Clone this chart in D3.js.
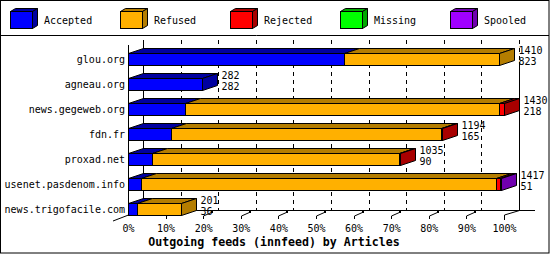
<!DOCTYPE html>
<html>
<head>
<meta charset="utf-8">
<script src="https://cdn.jsdelivr.net/npm/d3@7"></script>
<style>
  body { margin: 0; background: #fff; }
  svg { display: block; }
  text { font-family: "DejaVu Sans Mono", monospace; font-size: 10px; fill: #000; }
  .title { font-weight: bold; font-size: 11.6px; }
</style>
</head>
<body>
<svg id="chart" width="550" height="255"></svg>
<script>
// data (articles per server)
const servers = ['glou.org', 'agneau.org', 'news.gegeweb.org', 'fdn.fr', 'proxad.net', 'usenet.pasdenom.info', 'news.trigofacile.com'];
const accepted = [823, 282, 218, 165, 90, 51, 36];
const refused  = [587, 0, 1193, 1025, 942, 1350, 165];
const rejected = [0, 0, 19, 4, 3, 13, 0];
const missing  = [0, 0, 0, 0, 0, 0, 0];
const spooled  = [0, 0, 0, 0, 0, 3, 0];
const seriesNames = ['Accepted', 'Refused', 'Rejected', 'Missing', 'Spooled'];
const tickPercents = [0, 10, 20, 30, 40, 50, 60, 70, 80, 90, 100];
const title = 'Outgoing feeds (innfeed) by Articles';

const colors = ['#0000ff', '#ffb000', '#ff0000', '#00ff00', '#a000ff'];
const shades = ['#0000a0', '#b47d00', '#a80000', '#00a800', '#7000b0'];

const series = [accepted, refused, rejected, missing, spooled];
const totals = servers.map((s, i) => d3.sum(series, v => v[i]));
const maxTotal = d3.max(totals);

const svg = d3.select('#chart');
const px = v => Math.round(v) + 0.5;
const dx = 15, dy = 5;

svg.append('rect').attr('x', 0.5).attr('y', 0.5).attr('width', 548.5).attr('height', 252.5)
  .attr('fill', '#fff').attr('stroke', '#000');
svg.append('line').attr('x1', 0).attr('x2', 549).attr('y1', 35.5).attr('y2', 35.5)
  .attr('stroke', '#000');

// legend
let lg = svg.append('g').selectAll('g').data(seriesNames).enter().append('g')
  .attr('transform', (d, i) => `translate(${10 + i * 110},0)`);
lg.append('polygon').attr('points', '0.5,11.5 22.5,11.5 27.5,8.5 5.5,8.5')
  .attr('fill', (d, i) => shades[i]).attr('stroke', '#000');
lg.append('polygon').attr('points', '22.5,11.5 27.5,8.5 27.5,25.5 22.5,28.5')
  .attr('fill', (d, i) => shades[i]).attr('stroke', '#000');
lg.append('rect').attr('x', 0.5).attr('y', 11.5).attr('width', 22).attr('height', 17)
  .attr('fill', (d, i) => colors[i]).attr('stroke', '#000');
lg.append('text').attr('x', 34).attr('y', 23.5).text(d => d);

// scales
const pct = d3.scaleLinear().domain([0, 100]).range([128, 504]);
const x = d3.scaleLinear().domain([0, maxTotal]).range([128, 504]);
const y = d3.scaleBand().domain(servers).range([40, 215]);

// back plane grid
const grid = svg.append('g');
grid.selectAll('line.grid').data(tickPercents.slice(1, 10)).enter().append('line')
  .attr('x1', d => px(pct(d) + dx)).attr('x2', d => px(pct(d) + dx))
  .attr('y1', 40).attr('y2', 210)
  .attr('stroke', '#000').attr('stroke-dasharray', '4,4');
grid.append('line').attr('x1', px(pct(100) + dx)).attr('x2', px(pct(100) + dx))
  .attr('y1', 40).attr('y2', 62).attr('stroke', '#000').attr('stroke-dasharray', '4,4');
grid.append('line').attr('x1', px(pct(100) + dx)).attr('x2', px(pct(100) + dx))
  .attr('y1', 62).attr('y2', 211).attr('stroke', '#000');
grid.append('line').attr('x1', px(pct(0) + dx)).attr('x2', px(pct(0) + dx))
  .attr('y1', 40).attr('y2', 211).attr('stroke', '#000');
grid.append('line').attr('x1', pct(0) + dx).attr('x2', 535)
  .attr('y1', 210.5).attr('y2', 210.5).attr('stroke', '#000');
grid.append('line').attr('x1', 113).attr('y1', 221).attr('x2', px(pct(0))).attr('y2', 215)
  .attr('stroke', '#000');

// tick marks on the floor
grid.selectAll('path.tick').data(tickPercents.slice(1, 10)).enter().append('path')
  .attr('d', d => `M${px(pct(d))},219V216L${px(pct(d)) + 9},212`)
  .attr('fill', 'none').attr('stroke', '#000');
grid.selectAll('rect.tick').data(tickPercents.slice(1, 10)).enter().append('rect')
  .attr('x', d => Math.round(pct(d)) + 8).attr('y', 211).attr('width', 2).attr('height', 2)
  .attr('fill', '#000');
grid.append('path')
  .attr('d', `M${px(pct(100))},220V215L${px(pct(100) + dx)},210.5`)
  .attr('fill', 'none').attr('stroke', '#000');

// bars
const bars = svg.append('g');
servers.forEach((s, i) => {
  const t = Math.round(y(s) + 13) + 0.5, b = Math.round(y(s) + 25) + 0.5;
  let cum = 0, last = -1, lastX = x(0);
  const segs = [];
  series.forEach((v, k) => {
    if (v[i] > 0) {
      segs.push({k: k, x0: x(cum), x1: x(cum + v[i])});
      cum += v[i];
      last = k;
    }
  });
  const g = bars.append('g');
  g.selectAll('polygon.top').data(segs).enter().append('polygon')
    .attr('points', d => {
      const a = px(d.x0), c = px(d.x1);
      return `${a},${t} ${c},${t} ${c + dx},${t - dy} ${a + dx},${t - dy}`;
    })
    .attr('fill', d => shades[d.k]).attr('stroke', '#000');
  g.selectAll('rect.front').data(segs).enter().append('rect')
    .attr('x', d => px(d.x0)).attr('y', t)
    .attr('width', d => Math.max(0, px(d.x1) - px(d.x0))).attr('height', b - t)
    .attr('fill', d => colors[d.k]).attr('stroke', '#000');
  const e = px(x(cum));
  g.append('polygon')
    .attr('points', `${e},${t} ${e + dx},${t - dy} ${e + dx},${b - dy} ${e},${b}`)
    .attr('fill', shades[last]).attr('stroke', '#000');
  g.append('text').attr('x', e + dx + 4).attr('y', t + 0.5).text(totals[i]);
  g.append('text').attr('x', e + dx + 4).attr('y', t + 11.5).text(accepted[i]);
});

// front axis
svg.append('line').attr('x1', px(pct(0))).attr('x2', px(pct(0)))
  .attr('y1', 45).attr('y2', 215).attr('stroke', '#000');

// category labels
svg.append('g').selectAll('text').data(servers).enter().append('text')
  .attr('x', 125).attr('y', d => y(d) + 22.5)
  .attr('text-anchor', 'end').text(d => d);

// x axis labels
const xAxis = svg.append('g').attr('transform', 'translate(0,222)')
  .call(d3.axisBottom(pct).tickValues(tickPercents).tickSize(0).tickPadding(0)
    .tickFormat(d => d + '%'));
xAxis.select('.domain').remove();
xAxis.selectAll('text').attr('dy', null).attr('y', 10)
  .style('font-family', '"DejaVu Sans Mono", monospace').style('font-size', '10px');

svg.append('text').attr('class', 'title').attr('x', 274).attr('y', 245.5)
  .attr('text-anchor', 'middle').text(title);
</script>
</body>
</html>
